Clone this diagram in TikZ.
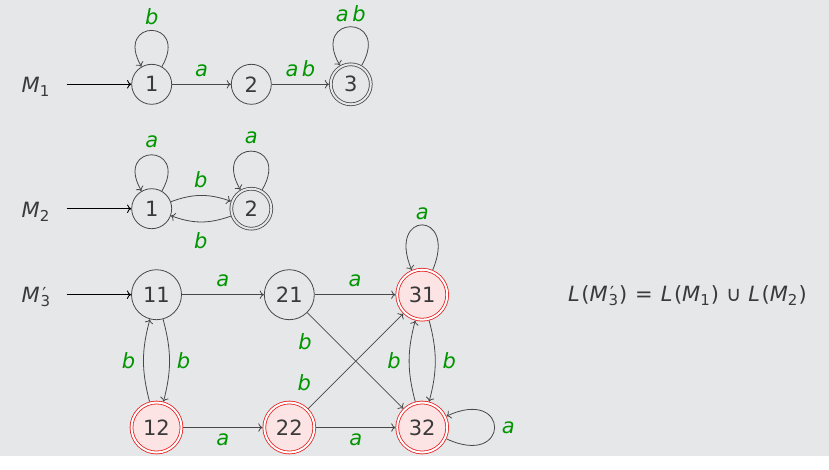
\documentclass[tikz,border=0pt]{standalone}
\usepackage{fontspec}
\setmainfont{DejaVu Sans}
\usetikzlibrary{arrows.meta}
\definecolor{bg}{RGB}{230,231,233}
\definecolor{ink}{RGB}{58,58,58}
\definecolor{wire}{RGB}{72,72,72}
\definecolor{lbl}{RGB}{0,150,0}
\definecolor{ring}{RGB}{232,32,32}
\definecolor{blush}{RGB}{253,228,228}
% lowered small index, as in M_1
\newcommand{\low}[1]{\raisebox{-4pt}{\fontsize{15}{15}\selectfont #1}}
% primed letter with an index below the prime
\newcommand{\primed}[2]{\textit{#1}\rlap{\kern2.5pt\raisebox{2.5pt}{\fontsize{18}{18}\selectfont ′}}\kern0.8pt\low{#2}}

\begin{document}
\begin{tikzpicture}[x=1pt,y=1pt,
  txtbase/.style={font=\fontsize{21}{25}\selectfont, text=ink},
  st/.style={txtbase, circle, draw=wire, line width=0.8pt, minimum size=40pt, inner sep=0pt},
  big/.style={minimum size=50pt},
  acc/.style={double=bg, double distance=2pt, outer sep=1.8pt},
  hot/.style={draw=ring, fill=blush, double=white, double distance=2pt, outer sep=1.8pt},
  tr/.style={draw=wire, line width=0.8pt, -{To[length=4.2pt,width=8.5pt]}},
  init/.style={draw=black, line width=0.9pt, -{To[length=4.2pt,width=8.5pt]}},
  lab/.style={font=\fontsize{21}{25}\selectfont\itshape, text=lbl, inner sep=2pt},
  mlab/.style={txtbase, inner sep=0pt, anchor=base west},
  lp/.style={loop, looseness=7, min distance=1pt}
]
\fill[bg] (0,0) rectangle (829,-456);

% ---- M1 ----
\node[mlab] (m1) at (21.5,-92.7) {\textit{M}\low{1}};
\coordinate (s1) at (66.7,-84.3);
\node[st] (a1) at (151.7,-84.3) {1};
\node[st] (a2) at (251.3,-84.3) {2};
\node[st, acc] (a3) at (350.8,-84.3) {3};
\draw[init] (s1) -- (a1);
\draw[tr] (a1) -- node[lab, above=5pt] {a} (a2);
\draw[tr] (a2) -- node[lab, above=5pt] {a\,b} (a3);
\draw[tr] (a1) to[lp, out=60, in=120] node[lab, above=3pt] {b} (a1);
\draw[tr] (a3) to[lp, out=60, in=120] node[lab, above=3pt] {a\,b} (a3);

% ---- M2 ----
\node[mlab] (m2) at (21.5,-217.6) {\textit{M}\low{2}};
\coordinate (s2) at (66.7,-208.7);
\node[st] (b1) at (151.7,-208.7) {1};
\node[st, acc] (b2) at (251.3,-208.7) {2};
\draw[init] (s2) -- (b1);
\draw[tr] (b1) to[bend left=20] node[lab, above=5pt] {b} (b2);
\draw[tr] (b2) to[bend left=20] node[lab, below=8pt] {b} (b1);
\draw[tr] (b1) to[lp, out=60, in=120] node[lab, above=5pt] {a} (b1);
\draw[tr] (b2) to[lp, out=60, in=120] node[lab, above=5pt] {a} (b2);

% ---- product automaton M3' ----
\node[mlab] (m3) at (21.5,-302.7) {\primed{M}{3}};
\coordinate (s3) at (66.7,-294.7);
\node[st, big] (c11) at (156.5,-294.7) {11};
\node[st, big] (c21) at (289.3,-294.7) {21};
\node[st, big, hot] (c31) at (422.2,-294.7) {31};
\node[st, big, hot] (c12) at (156.5,-427.5) {12};
\node[st, big, hot] (c22) at (289.3,-427.5) {22};
\node[st, big, hot] (c32) at (422.2,-427.5) {32};
\draw[init] (s3) -- (c11);
\draw[tr] (c11) -- node[lab, above=5.5pt] {a} (c21);
\draw[tr] (c21) -- node[lab, above=5.5pt] {a} (c31);
\draw[tr] (c12) -- node[lab, below=4pt] {a} (c22);
\draw[tr] (c22) -- node[lab, below=4pt] {a} (c32);
\draw[tr] (c11) to[bend left=15] node[lab, right=5pt] {b} (c12);
\draw[tr] (c12) to[bend left=15] node[lab, left=6pt] {b} (c11);
\draw[tr] (c31) to[bend left=15] node[lab, right=5pt] {b} (c32);
\draw[tr] (c32) to[bend left=15] node[lab, left=6pt] {b} (c31);
\draw[tr] (c21) -- node[lab, pos=0.3, left=22pt] {b} (c32);
\draw[tr] (c22) -- node[lab, pos=0.27, left=20.5pt] {b} (c31);
\draw[tr] (c31) to[loop, looseness=8, out=67, in=113] node[lab, above=3pt] {a} (c31);
\draw[tr] (c32) to[loop, looseness=8, out=-25, in=25] node[lab, right=5pt] {a} (c32);

% ---- language identity ----
\node[mlab] (eq) at (568,-301.7)
  {\textit{L}\kern1.5pt(\primed{M}{3}\kern1pt)\hspace{8pt}=\hspace{8pt}\textit{L}\kern1.5pt(\textit{M}\low{1}\kern1pt)\hspace{7pt}∪\hspace{7pt}\textit{L}\kern1.5pt(\textit{M}\low{2}\kern1pt)};
\end{tikzpicture}
\end{document}
